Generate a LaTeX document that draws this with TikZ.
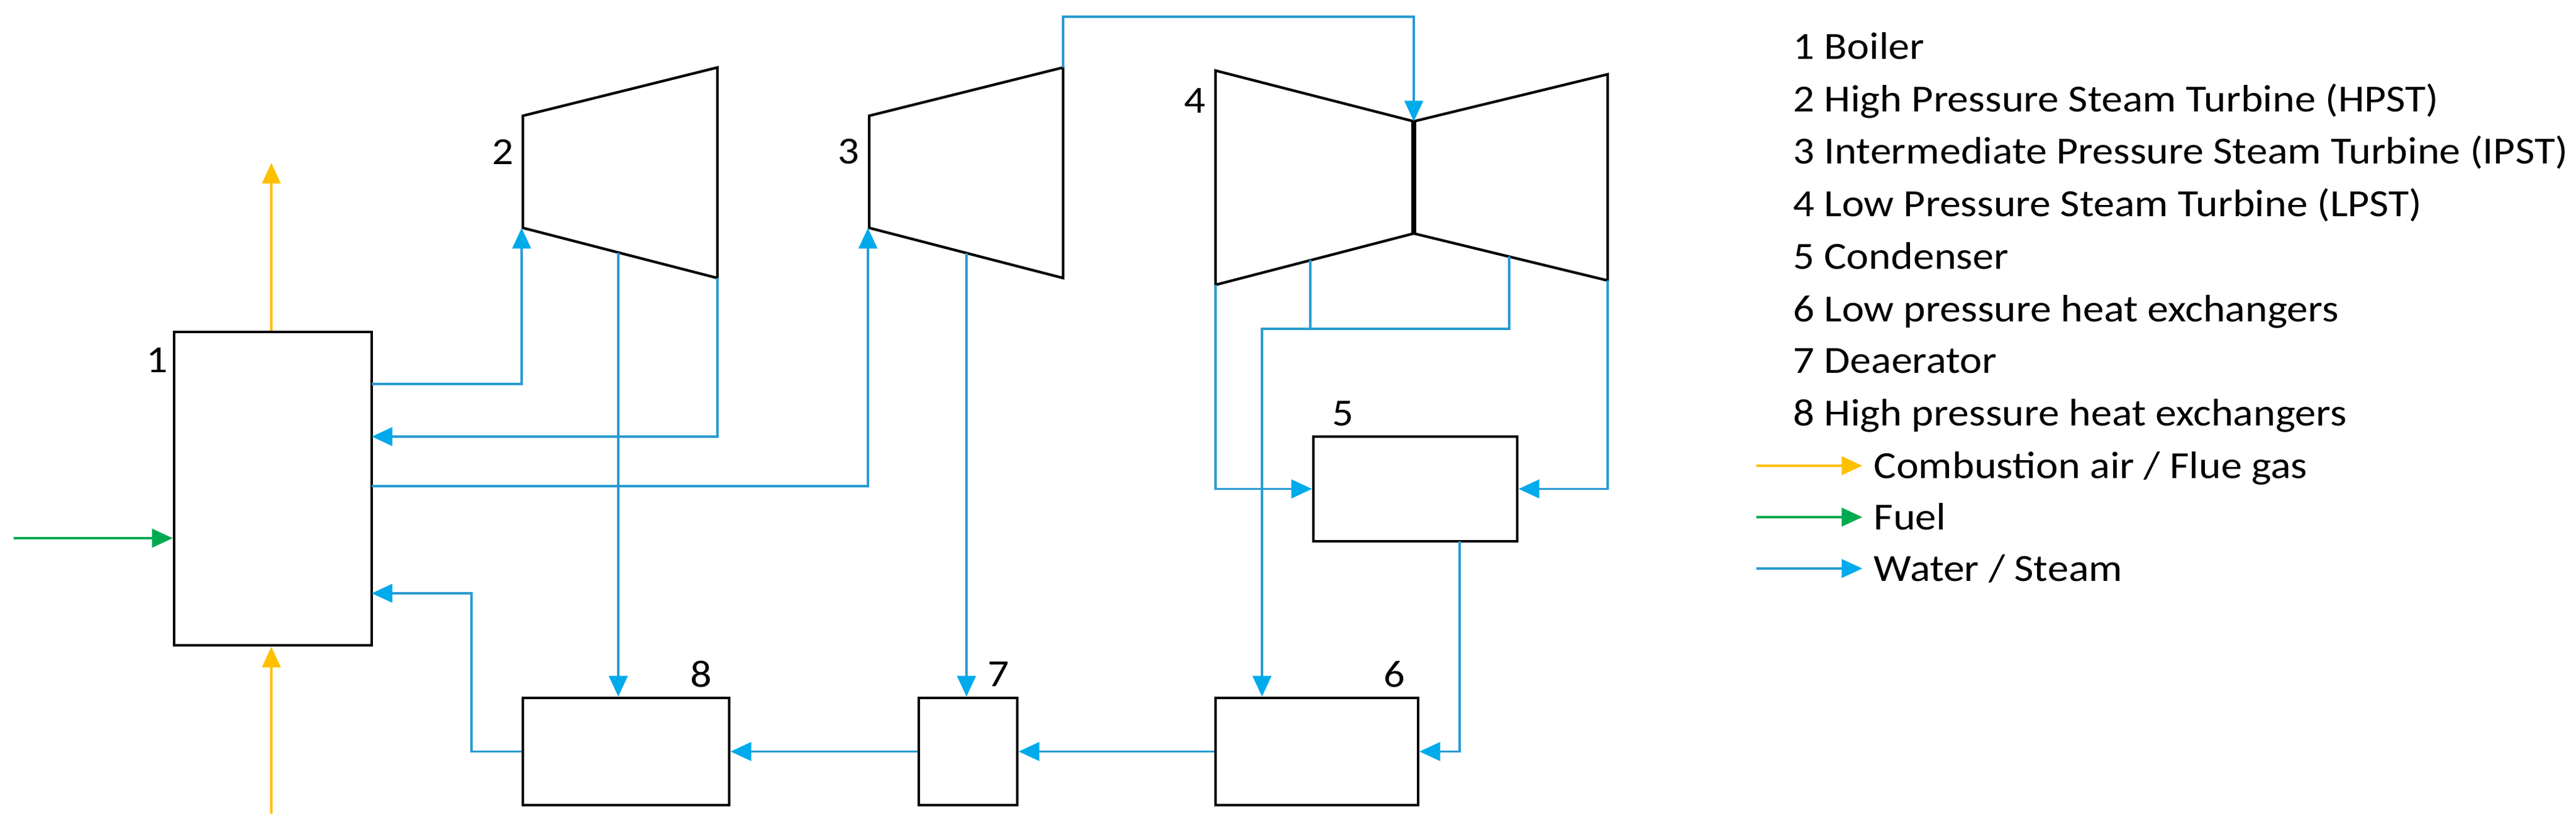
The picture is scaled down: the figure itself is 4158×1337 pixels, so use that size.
\documentclass[tikz,border=0pt]{standalone}
\usepackage{fontspec}
\setmainfont{Carlito}[FakeStretch=1.1]
\usetikzlibrary{arrows.meta,calc}
\definecolor{steam}{RGB}{40,155,210}
\definecolor{steamhead}{RGB}{0,170,235}
\definecolor{flue}{RGB}{255,192,0}
\definecolor{fuelc}{RGB}{0,170,80}
\tikzset{
  unit/.style={draw=black,line width=1.2pt,fill=white,inner sep=0pt},
  turb/.style={draw=black,line width=1.2pt,line join=miter},
  flow/.style={draw=steam,line width=1.05pt,-{Triangle[length=9.5pt,width=8.5pt,color=steamhead]}},
  flowline/.style={draw=steam,line width=1.05pt},
  airflow/.style={draw=flue,line width=1pt,-{Triangle[length=9.5pt,width=8.5pt]}},
  fuelflow/.style={draw=fuelc,line width=1pt,-{Triangle[length=9.5pt,width=8.5pt]}},
  lbl/.style={font=\fontsize{17.6}{21}\selectfont,inner sep=0pt},
  legend/.style={font=\fontsize{17.6}{21}\selectfont,inner sep=0pt,anchor=base west}
}
\begin{document}
\begin{tikzpicture}[x=0.01cm,y=-0.01cm]
\useasboundingbox (0,0) rectangle (4158,1337);
% units
\node[unit,minimum width=3.19cm,minimum height=5.06cm] (boiler) at (440.5,789) {};
\node[unit,minimum width=3.33cm,minimum height=1.73cm] (hpx) at (1010.5,1213.5) {};
\node[unit,minimum width=1.59cm,minimum height=1.73cm] (dea) at (1562.5,1213.5) {};
\node[unit,minimum width=3.27cm,minimum height=1.73cm] (lpx) at (2125.5,1213.5) {};
\node[unit,minimum width=3.29cm,minimum height=1.69cm] (cond) at (2284.5,789.5) {};
% turbines
\coordinate (t2a) at (844,187); \coordinate (t2b) at (1158,109);
\coordinate (t2c) at (1158,449); \coordinate (t2d) at (844,368);
\draw[turb] (t2a) -- (t2b) -- (t2c) -- (t2d) -- cycle;
\coordinate (t3a) at (1403,187); \coordinate (t3b) at (1716,109);
\coordinate (t3c) at (1716,449); \coordinate (t3d) at (1403,368);
\draw[turb] (t3a) -- (t3b) -- (t3c) -- (t3d) -- cycle;
\coordinate (l1) at (1962,114); \coordinate (lmt) at (2282,196);
\coordinate (lmb) at (2282,377); \coordinate (l4) at (1962,460);
\coordinate (r1) at (2595,120); \coordinate (r4) at (2595,453);
\draw[turb] (lmt) -- (l1) -- (l4) -- (lmb);
\draw[turb] (lmt) -- (r1) -- (r4) -- (lmb);
\draw[black,line width=2.4pt] (lmt) -- (lmb);
% labels
\node[lbl] (n1) at (254,582) {1};
\node[lbl] (n2) at (812,245) {2};
\node[lbl] (n3) at (1370,245) {3};
\node[lbl] (n4) at (1929,163) {4};
\node[lbl] (n5) at (2168,668) {5};
\node[lbl] (n6) at (2251,1089) {6};
\node[lbl] (n7) at (1612,1089) {7};
\node[lbl] (n8) at (1132,1089) {8};
% helper coordinates
\coordinate (bo1) at (600,620);
\coordinate (bi1) at (600,705);
\coordinate (bo2) at (600,785);
\coordinate (bi2) at (600,958);
\coordinate (t2in) at (842,368);
\coordinate (t2ext) at (998,408);
\coordinate (t3in) at (1401,368);
\coordinate (t3ext) at (1560,409);
\coordinate (t3top) at (1716,27);
\coordinate (lpe1) at (2115,420);
\coordinate (lpe2) at (2436,414);
\coordinate (lpj) at (2037,531);
\coordinate (cdo) at (2356,874);
\coordinate (hpr) at (761,1213.5);
% steam/water flows
\draw[flow] (bo1) -| (t2in);
\draw[flow] (t2c) |- (bi1);
\draw[flow] (t2ext) -- (t2ext |- hpx.north);
\draw[flow] (bo2) -| (t3in);
\draw[flow] (t3b) -- (t3top) -| (lmt);
\draw[flow] (t3ext) -- (t3ext |- dea.north);
\draw[flow] (l4) |- (cond.west);
\draw[flow] (r4) |- (cond.east);
\draw[flowline] (lpe1) -- (lpe1 |- lpj);
\draw[flow] (lpe2) |- (lpj) -- (lpj |- lpx.north);
\draw[flow] (cdo) |- (lpx.east);
\draw[flow] (lpx.west) -- (dea.east);
\draw[flow] (dea.west) -- (hpx.east);
\draw[flow] (hpx.west) -- (hpr) |- (bi2);
% air and fuel
\coordinate (flueend) at (438,263);
\coordinate (airstart) at (438,1314);
\coordinate (fuelstart) at (22,869);
\draw[airflow] (boiler.north -| flueend) -- (flueend);
\draw[airflow] (airstart) -- (boiler.south -| airstart);
\draw[fuelflow] (fuelstart) -- (boiler.west |- fuelstart);
% legend
\node[legend] (k1) at (2894,96) {1 Boiler};
\node[legend] (k2) at (2894,181) {2 High Pressure Steam Turbine (HPST)};
\node[legend] (k3) at (2894,265) {3 Intermediate Pressure Steam Turbine (IPST)};
\node[legend] (k4) at (2894,350) {4 Low Pressure Steam Turbine (LPST)};
\node[legend] (k5) at (2894,435) {5 Condenser};
\node[legend] (k6) at (2894,520) {6 Low pressure heat exchangers};
\node[legend] (k7) at (2894,603) {7 Deaerator};
\node[legend] (k8) at (2894,688) {8 High pressure heat exchangers};
\node[legend] (ka) at (3024,772) {Combustion air / Flue gas};
\node[legend] (kf) at (3024,855) {Fuel};
\node[legend] (kw) at (3024,938) {Water / Steam};
\coordinate (ka0) at (2835,752); \coordinate (ka1) at (3006,752);
\coordinate (kf0) at (2835,835); \coordinate (kf1) at (3006,835);
\coordinate (kw0) at (2835,918); \coordinate (kw1) at (3006,918);
\draw[airflow] (ka0) -- (ka1);
\draw[fuelflow] (kf0) -- (kf1);
\draw[flow] (kw0) -- (kw1);
\end{tikzpicture}
\end{document}
